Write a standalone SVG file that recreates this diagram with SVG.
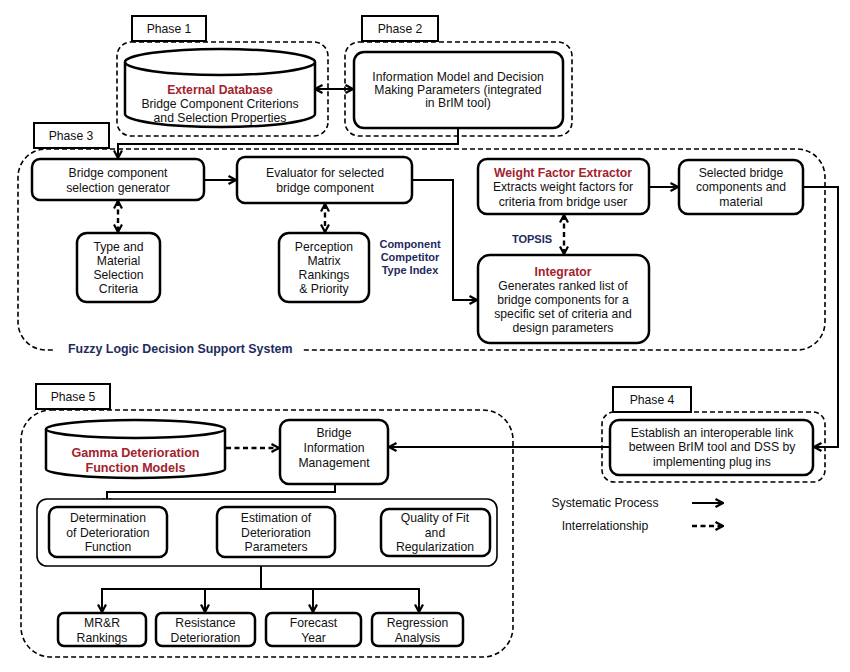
<svg xmlns="http://www.w3.org/2000/svg" width="850" height="672" viewBox="0 0 850 672">
<defs>
<style>
.bg{fill:#fff}
.box{fill:#fff;stroke:#000;stroke-width:2.5}
.thin{fill:#fff;stroke:#000;stroke-width:1.6}
.region{fill:none;stroke:#000;stroke-width:1.6;stroke-dasharray:5 3}
.lbl{fill:#fff;stroke:#000;stroke-width:2}
.t{font-family:"Liberation Sans",Arial,Helvetica,sans-serif;font-size:12.2px;text-anchor:middle;fill:#111}
.red{fill:#a3222d;font-weight:bold}
.navy{fill:#1e2b5e;font-weight:bold}
.conn{fill:none;stroke:#000;stroke-width:2}
.dash{stroke-dasharray:5 3.5;stroke-width:2.4}
</style>
<marker id="ah" viewBox="0 0 10 10" refX="9" refY="5" markerWidth="10" markerHeight="10" markerUnits="userSpaceOnUse" orient="auto-start-reverse">
<path d="M1.5,1 L9,5 L1.5,9" fill="none" stroke="#000" stroke-width="2.2"/>
</marker>
</defs>
<rect class="bg" x="0" y="0" width="850" height="672"/>

<!-- phase regions -->
<g id="phase1">
<rect class="region" x="117" y="42" width="211" height="94" rx="14"/>
<rect class="lbl" x="132" y="16" width="74" height="25"/>
<text class="t" x="169" y="33">Phase 1</text>
</g>
<g id="phase2">
<rect class="region" x="345" y="42" width="227" height="94" rx="14"/>
<rect class="lbl" x="362" y="16" width="76" height="25"/>
<text class="t" x="400" y="33">Phase 2</text>
</g>
<g id="phase3">
<rect class="region" x="18" y="149" width="807" height="201" rx="28"/>
<rect class="lbl" x="34" y="123" width="75" height="25"/>
<text class="t" x="71" y="140">Phase 3</text>
<rect class="bg" x="55" y="341" width="247" height="17"/>
<text class="t navy" x="68" y="353" style="text-anchor:start;font-size:12.4px">Fuzzy Logic Decision Support System</text>
</g>
<g id="phase4">
<rect class="region" x="602" y="412" width="223" height="70" rx="12"/>
<rect class="lbl" x="613" y="387" width="78" height="25"/>
<text class="t" x="652" y="404">Phase 4</text>
</g>
<g id="phase5">
<rect class="region" x="21" y="410" width="492" height="247" rx="30"/>
<rect class="lbl" x="36" y="384" width="74" height="25"/>
<text class="t" x="73" y="401">Phase 5</text>
</g>

<!-- connectors -->
<g id="connectors">
<path class="conn" d="M315,89 H353" marker-start="url(#ah)" marker-end="url(#ah)"/>
<path class="conn" d="M458,128 V144 H118 V158" marker-end="url(#ah)"/>
<path class="conn" d="M204,180 H236" marker-end="url(#ah)"/>
<path class="conn" d="M412,180 H453 V300 H477" marker-end="url(#ah)"/>
<path class="conn" d="M649,187 H678" marker-end="url(#ah)"/>
<path class="conn" d="M803,187 H838 V447 H814" marker-end="url(#ah)"/>
<path class="conn dash" d="M118,201 V232" marker-start="url(#ah)" marker-end="url(#ah)"/>
<path class="conn dash" d="M325,204 V232" marker-start="url(#ah)" marker-end="url(#ah)"/>
<path class="conn dash" d="M564,215 V254" marker-start="url(#ah)" marker-end="url(#ah)"/>
<path class="conn" d="M610,447 H389" marker-end="url(#ah)"/>
<path class="conn dash" d="M226,448 H279" marker-end="url(#ah)"/>
<path class="conn" d="M335,484 V492 H107 V506" marker-end="url(#ah)"/>
<path class="conn" d="M167,533 H216" marker-end="url(#ah)"/>
<path class="conn" d="M335,533 H380" marker-end="url(#ah)"/>
<path class="conn" d="M261,566 V589"/>
<path class="conn" d="M102,589 H419"/>
<path class="conn" d="M102,588 V612" marker-end="url(#ah)"/>
<path class="conn" d="M205,589 V612" marker-end="url(#ah)"/>
<path class="conn" d="M313,589 V612" marker-end="url(#ah)"/>
<path class="conn" d="M419,588 V612" marker-end="url(#ah)"/>
<path class="conn" d="M692,503 H723" marker-end="url(#ah)"/>
<path class="conn dash" d="M692,526 H723" marker-end="url(#ah)"/>
</g>

<!-- nodes -->
<g id="external-db">
<path class="box" d="M125,62 V114 A95,13 0 0 0 315,114 V62"/>
<ellipse class="box" cx="220" cy="62" rx="95" ry="13"/>
<text class="t red" x="220" y="93.5">External Database</text>
<text class="t" x="220" y="107.5">Bridge Component Criterions</text>
<text class="t" x="220" y="121.5">and Selection Properties</text>
</g>
<g id="info-model">
<rect class="box" x="354" y="52" width="209" height="76" rx="10"/>
<text class="t" x="458" y="81">Information Model and Decision</text>
<text class="t" x="458" y="94">Making Parameters (integrated</text>
<text class="t" x="458" y="107">in BrIM tool)</text>
</g>
<g id="selection-generator">
<rect class="box" x="32" y="159" width="172" height="41" rx="8"/>
<text class="t" x="118" y="177">Bridge component</text>
<text class="t" x="118" y="192">selection generator</text>
</g>
<g id="evaluator">
<rect class="box" x="237" y="157" width="175" height="46" rx="8"/>
<text class="t" x="325" y="177">Evaluator for selected</text>
<text class="t" x="325" y="192">bridge component</text>
</g>
<g id="type-material">
<rect class="box" x="77" y="233" width="83" height="69" rx="10"/>
<text class="t" x="118.5" y="251">Type and</text>
<text class="t" x="118.5" y="265">Material</text>
<text class="t" x="118.5" y="279">Selection</text>
<text class="t" x="118.5" y="293">Criteria</text>
</g>
<g id="perception">
<rect class="box" x="279" y="233" width="90" height="69" rx="10"/>
<text class="t" x="324" y="251">Perception</text>
<text class="t" x="324" y="265">Matrix</text>
<text class="t" x="324" y="279">Rankings</text>
<text class="t" x="324" y="293">&amp; Priority</text>
</g>
<g id="cct-index">
<text class="t navy" x="410" y="248" style="font-size:11px">Component</text>
<text class="t navy" x="410" y="261" style="font-size:11px">Competitor</text>
<text class="t navy" x="410" y="274" style="font-size:11px">Type Index</text>
</g>
<g id="weight-extractor">
<rect class="box" x="478" y="159" width="171" height="55" rx="9"/>
<text class="t red" x="563" y="177">Weight Factor Extractor</text>
<text class="t" x="563" y="191">Extracts weight factors for</text>
<text class="t" x="563" y="206">criteria from bridge user</text>
</g>
<g id="selected-components">
<rect class="box" x="679" y="160" width="124" height="54" rx="9"/>
<text class="t" x="741" y="177">Selected bridge</text>
<text class="t" x="741" y="191">components and</text>
<text class="t" x="741" y="206">material</text>
</g>
<g id="topsis">
<text class="t navy" x="532" y="243" style="font-size:11px">TOPSIS</text>
</g>
<g id="integrator">
<rect class="box" x="478" y="255" width="171" height="88" rx="12"/>
<text class="t red" x="563" y="276">Integrator</text>
<text class="t" x="563" y="290">Generates ranked list of</text>
<text class="t" x="563" y="304">bridge components for a</text>
<text class="t" x="563" y="318">specific set of criteria and</text>
<text class="t" x="563" y="332">design parameters</text>
</g>
<g id="interoperable-link">
<rect class="box" x="610" y="420" width="203" height="55" rx="9"/>
<text class="t" x="712" y="437">Establish an interoperable link</text>
<text class="t" x="712" y="451">between BrIM tool and DSS by</text>
<text class="t" x="712" y="466">implementing plug ins</text>
</g>
<g id="gamma-models">
<path class="box" d="M46,429 V469 A89.5,9 0 0 0 225,469 V429"/>
<ellipse class="box" cx="135.5" cy="429" rx="89.5" ry="9"/>
<text class="t red" x="135.5" y="456.5" style="font-size:12.6px">Gamma Deterioration</text>
<text class="t red" x="135.5" y="471.5" style="font-size:12.6px">Function Models</text>
</g>
<g id="bim">
<rect class="box" x="280" y="420" width="108" height="64" rx="9"/>
<text class="t" x="334" y="437">Bridge</text>
<text class="t" x="334" y="452">Information</text>
<text class="t" x="334" y="467">Management</text>
</g>
<g id="deterioration-group">
<rect class="thin" x="37" y="499" width="460" height="67" rx="10"/>
</g>
<g id="determination">
<rect class="box" x="49" y="507" width="118" height="50" rx="8"/>
<text class="t" x="108" y="522">Determination</text>
<text class="t" x="108" y="537">of Deterioration</text>
<text class="t" x="108" y="551">Function</text>
</g>
<g id="estimation">
<rect class="box" x="217" y="507" width="118" height="50" rx="8"/>
<text class="t" x="276" y="522">Estimation of</text>
<text class="t" x="276" y="537">Deterioration</text>
<text class="t" x="276" y="551">Parameters</text>
</g>
<g id="quality">
<rect class="box" x="381" y="509" width="109" height="47" rx="8"/>
<text class="t" x="435" y="522">Quality of Fit</text>
<text class="t" x="435" y="537">and</text>
<text class="t" x="435" y="551">Regularization</text>
</g>
<g id="mrr">
<rect class="box" x="58" y="613" width="88" height="33" rx="6"/>
<text class="t" x="102" y="627">MR&amp;R</text>
<text class="t" x="102" y="642">Rankings</text>
</g>
<g id="resistance">
<rect class="box" x="156" y="613" width="99" height="33" rx="6"/>
<text class="t" x="205.5" y="627">Resistance</text>
<text class="t" x="205.5" y="642">Deterioration</text>
</g>
<g id="forecast">
<rect class="box" x="266" y="613" width="95" height="33" rx="6"/>
<text class="t" x="313.5" y="627">Forecast</text>
<text class="t" x="313.5" y="642">Year</text>
</g>
<g id="regression">
<rect class="box" x="372" y="613" width="91" height="33" rx="6"/>
<text class="t" x="417.5" y="627">Regression</text>
<text class="t" x="417.5" y="642">Analysis</text>
</g>
<g id="legend">
<text class="t" x="605" y="507">Systematic Process</text>
<text class="t" x="605" y="530">Interrelationship</text>
</g>
</svg>
